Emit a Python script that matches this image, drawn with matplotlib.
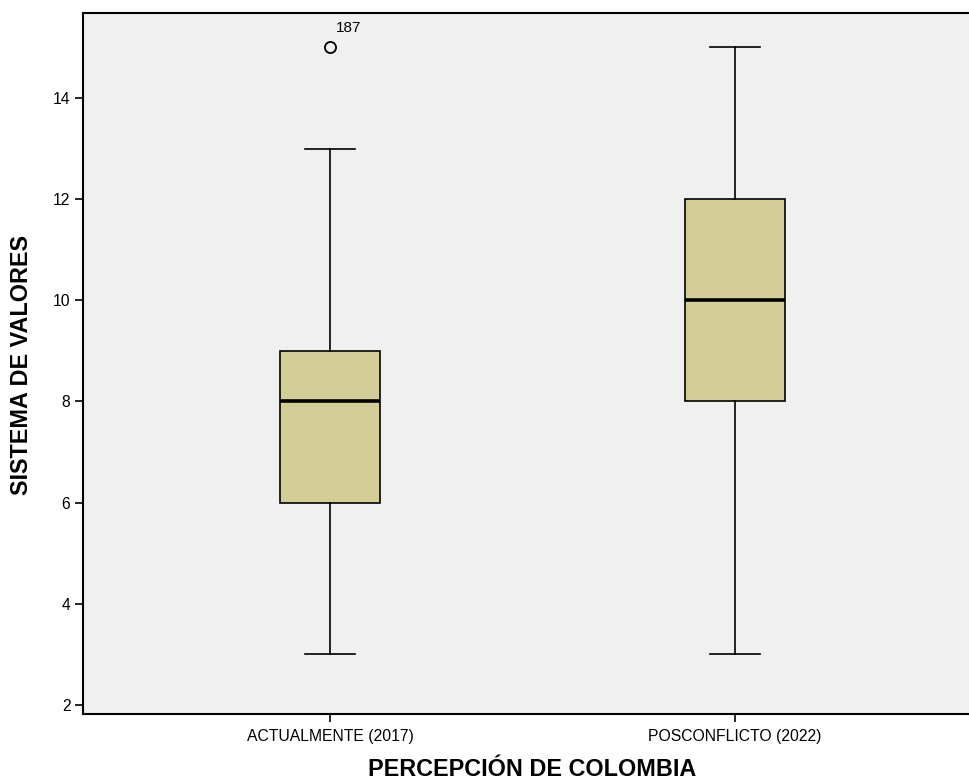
import matplotlib
matplotlib.use("Agg")
import matplotlib.pyplot as plt

plt.rcParams['font.family'] = ['Liberation Sans', 'DejaVu Sans']

categories = ["ACTUALMENTE (2017)", "POSCONFLICTO (2022)"]
whislo = [3, 3]
q1 = [6, 8]
med = [8, 10]
q3 = [9, 12]
whishi = [13, 15]
outliers = [[15], []]
outlier_ids = [["187"], []]

yticks = [2, 4, 6, 8, 10, 12, 14]

fig = plt.figure(figsize=(9.7, 7.8), dpi=100)
ax = fig.add_axes([83/970, 66/780, (982-83)/970, 701/780])
ax.set_facecolor('#F0F0F0')

stats = []
for i in range(len(categories)):
    stats.append(dict(whislo=whislo[i], q1=q1[i], med=med[i], q3=q3[i],
                      whishi=whishi[i], fliers=outliers[i], label=categories[i]))

ax.bxp(stats, positions=[1, 2], widths=0.247, capwidths=0.123,
       patch_artist=True, showfliers=True,
       boxprops=dict(facecolor='#D3CE98', edgecolor='black', linewidth=1.2),
       medianprops=dict(color='black', linewidth=2.6),
       whiskerprops=dict(color='black', linewidth=1.2),
       capprops=dict(color='black', linewidth=1.2),
       flierprops=dict(marker='o', markerfacecolor='none', markeredgecolor='black',
                       markersize=8, markeredgewidth=1.3))

for i, (vals, ids) in enumerate(zip(outliers, outlier_ids)):
    for v, lab in zip(vals, ids):
        ax.annotate(lab, xy=(i + 1, v), xytext=(13, 9), textcoords='offset points',
                    ha='center', va='bottom', fontsize=11)

ax.set_xlim(0.39, 2.61)
ax.set_ylim(1.82, 15.68)
ax.set_yticks(yticks)
ax.set_yticklabels([str(t) for t in yticks], fontsize=11.3)
ax.set_xticks([1, 2])
ax.set_xticklabels(categories, fontsize=11.3)
ax.tick_params(axis='both', direction='out', length=6, width=1.2, color='black')
ax.tick_params(axis='x', pad=5)
ax.tick_params(axis='y', pad=3)
for s in ['left', 'bottom', 'top']:
    ax.spines[s].set_linewidth(1.5)
ax.spines['right'].set_visible(False)

fig.text(532/970, 10/780, "PERCEPCIÓN DE COLOMBIA", fontsize=16.8, fontweight='bold',
         ha='center', va='center')
fig.text(22/970, 1 - 365/780, "SISTEMA DE VALORES", fontsize=16.8, fontweight='bold',
         ha='center', va='center', rotation=90)

fig.savefig("out.png", dpi=100)
